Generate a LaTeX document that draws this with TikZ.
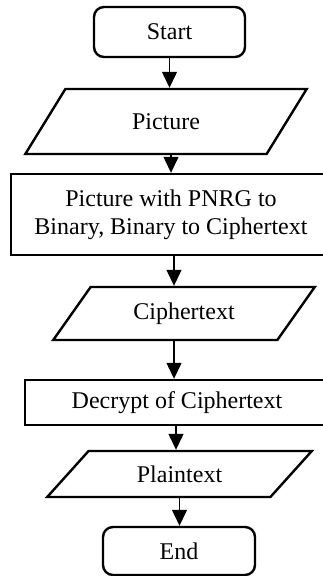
\documentclass[tikz,border=0pt]{standalone}
\usepackage{fontspec}
\setmainfont{Liberation Serif}
\usetikzlibrary{shapes.geometric,arrows.meta}
\begin{document}
\begin{tikzpicture}[x=1pt,y=-1pt,
    font=\fontsize{24}{28}\selectfont,
    term/.style={draw,line width=2.4pt,rounded corners=10pt,minimum height=#1,inner sep=0pt},
    proc/.style={draw,line width=2.4pt,align=center,inner sep=0pt},
    io/.style={draw,line width=2.4pt,trapezium,trapezium stretches=true,inner sep=0pt},
    arr/.style={line width=1.3pt,-{Triangle[length=16pt,width=15pt]}}]
        \useasboundingbox (0,0) rectangle (323,576);
        \node[term=50pt,minimum width=151pt] (start) at (169.5,32) {Start};
        \node[io,trapezium left angle=50,trapezium right angle=130,
              minimum width=282pt,minimum height=65pt] (pic) at (166,121.5) {Picture};
        \node[proc,minimum width=320pt,minimum height=81pt] (conv) at (171,214.5)
            {Picture with PNRG to\\Binary, Binary to Ciphertext};
        \node[io,trapezium left angle=47,trapezium right angle=133,
              minimum width=262pt,minimum height=53pt] (cipher) at (184,313.5) {Ciphertext};
        \node[proc,minimum width=304pt,minimum height=45pt] (decrypt) at (177,402.5)
            {Decrypt of Ciphertext};
        \node[io,trapezium left angle=41,trapezium right angle=139,
              minimum width=265pt,minimum height=46pt] (plain) at (179.5,474) {Plaintext};
        \node[term=48pt,minimum width=152pt] (end) at (179,551) {End};
        \draw[arr] (start.south) -- (start.south |- pic.north);
        \draw[arr] ([xshift=5pt]pic.south) -- ([xshift=5pt]pic.south |- conv.north);
        \draw[arr] ([xshift=3pt]conv.south) -- ([xshift=3pt]conv.south |- cipher.north);
        \draw[arr] ([xshift=-10pt]cipher.south) -- ([xshift=-10pt]cipher.south |- decrypt.north);
        \draw[arr] ([xshift=-1pt]decrypt.south) -- ([xshift=-1pt]decrypt.south |- plain.north);
        \draw[arr] (plain.south) -- (plain.south |- end.north);
\end{tikzpicture}
\end{document}
